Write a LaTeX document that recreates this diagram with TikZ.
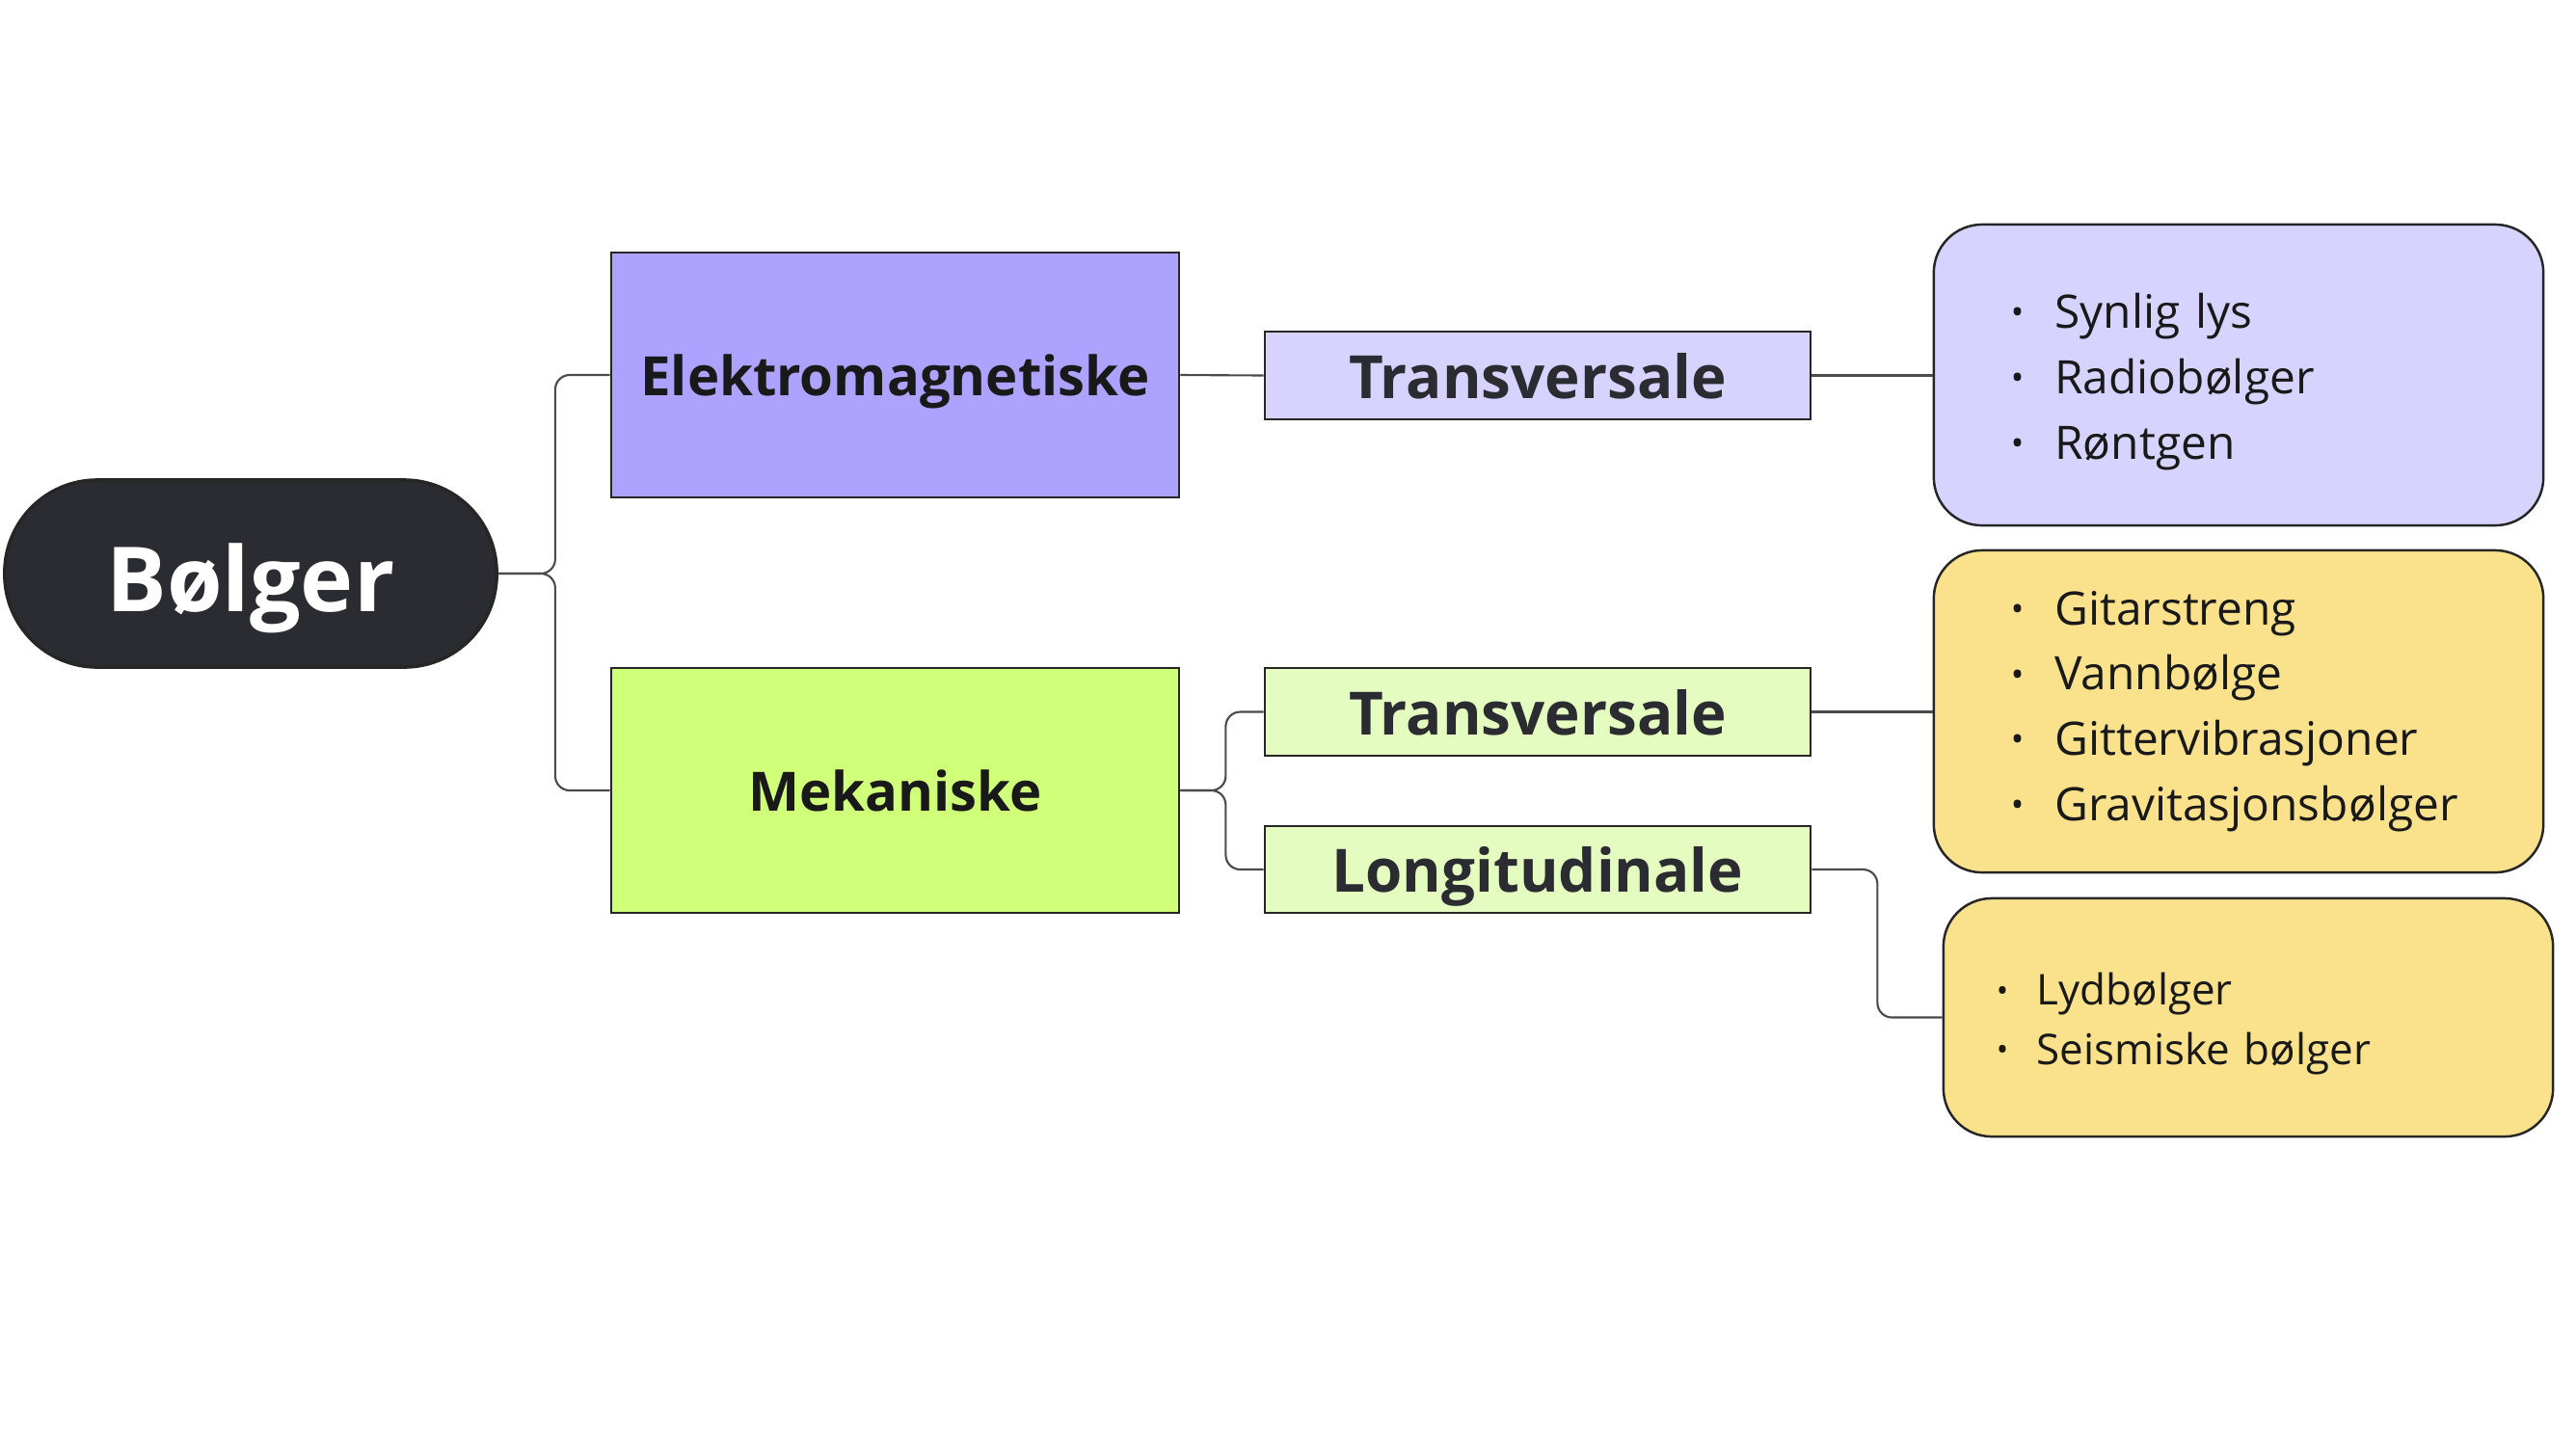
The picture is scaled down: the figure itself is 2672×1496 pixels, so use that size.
\documentclass[tikz,border=0pt]{standalone}
\usepackage{fontspec}
\setmainfont{Open Sans}
\usepackage{tikz}
\usetikzlibrary{positioning}
\usepackage{xcolor}

\definecolor{darkpill}{HTML}{2B2C31}
\definecolor{lavender}{HTML}{ADA3FF}
\definecolor{lightlav}{HTML}{D6D3FF}
\definecolor{limegreen}{HTML}{D0FF7A}
\definecolor{lightlime}{HTML}{E5FCC0}
\definecolor{sandyellow}{HTML}{FAE28C}
\definecolor{linegray}{HTML}{4A4A4A}

\newcommand{\pkt}{\makebox[0.95em][l]{\raisebox{0.08em}{\scalebox{0.75}{•}}}}
\newcommand{\topgap}{\rule{0pt}{1.06em}}

\begin{document}
\begin{tikzpicture}[
        x=0.01cm, y=-0.01cm,
        root/.style={
          rectangle,
          rounded corners=0.96cm,
          minimum width=5.10cm,
          minimum height=1.94cm,
          inner sep=0pt,
          text depth=0pt,
          draw=black!85,
          line width=1pt,
          fill=darkpill,
          text=white,
          font=\fontsize{26.5}{30}\selectfont\bfseries
        },
        category/.style={
          rectangle,
          minimum width=5.89cm,
          minimum height=2.54cm,
          inner sep=0pt,
          text depth=0pt,
          draw=black!85,
          line width=0.7pt,
          text=black!90,
          font=\fontsize{16}{20}\selectfont\bfseries
        },
        wavetype/.style={
          rectangle,
          minimum width=5.66cm,
          minimum height=0.91cm,
          inner sep=0pt,
          text depth=0pt,
          draw=black!85,
          line width=0.7pt,
          text=darkpill,
          font=\fontsize{17.6}{22}\selectfont\bfseries
        },
        examples/.style={
          rectangle,
          rounded corners=0.5cm,
          minimum width=6.32cm,
          inner ysep=0pt,
          draw=black!85,
          line width=0.7pt,
          align=left,
          text=black!90
        },
        conn/.style={
          draw=linegray,
          line width=0.6pt,
          rounded corners=0.15cm
        }
      ]

      \useasboundingbox (0,0) rectangle (2672,1496);

      % Root
      \node[root] (bolger) at (260,595) {\raisebox{-2.5pt}{Bølger}};

      % Categories
      \node[category, fill=lavender] (elektro) at (928.5,389) {Elektromagnetiske};
      \node[category, fill=limegreen] (mekanisk) at (928.5,820) {Mekaniske};

      % Wave types
      \node[wavetype, fill=lightlav] (transA) at (1595,389.5) {Transversale};
      \node[wavetype, fill=lightlime] (transB) at (1595,738.5) {Transversale};
      \node[wavetype, fill=lightlime, minimum height=0.90cm] (longi) at (1595,902) {Longitudinale};

      % Examples
      \node[examples, fill=lightlav, minimum height=3.12cm, text width=4.72cm, inner xsep=0.80cm,
            font=\fontsize{13.6}{19.3}\selectfont] (listA) at (2322,389)
        {\topgap\pkt Synlig lys\\ \pkt Radiobølger\\ \pkt Røntgen};
      \node[examples, fill=sandyellow, minimum height=3.34cm, text width=4.72cm, inner xsep=0.80cm,
            font=\fontsize{13.6}{19.3}\selectfont] (listB) at (2322,738)
        {\pkt Gitarstreng\\ \pkt Vannbølge\\ \pkt Gittervibrasjoner\\ \pkt Gravitasjonsbølger};
      \node[examples, fill=sandyellow, minimum height=2.47cm, text width=5.22cm, inner xsep=0.55cm,
            font=\fontsize{12.5}{17.4}\selectfont] (listC) at (2332,1055.5)
        {\topgap\pkt Lydbølger\\ \pkt Seismiske bølger};

      % Connectors
      \draw[conn] (bolger.east) -- ++(59,0) |- (elektro.west);
      \draw[conn] (bolger.east) -- ++(59,0) |- (mekanisk.west);
      \draw[conn] (elektro.east) -- (transA.west);
      \draw[conn] (transA.east) -- (listA.west |- transA.east);
      \draw[conn] (mekanisk.east) -- ++(47,0) |- (transB.west);
      \draw[conn] (mekanisk.east) -- ++(47,0) |- (longi.west);
      \draw[conn] (transB.east) -- (listB.west |- transB.east);
      \draw[conn] (longi.east) -- ++(68,0) |- (listC.west);

    \end{tikzpicture}
\end{document}
